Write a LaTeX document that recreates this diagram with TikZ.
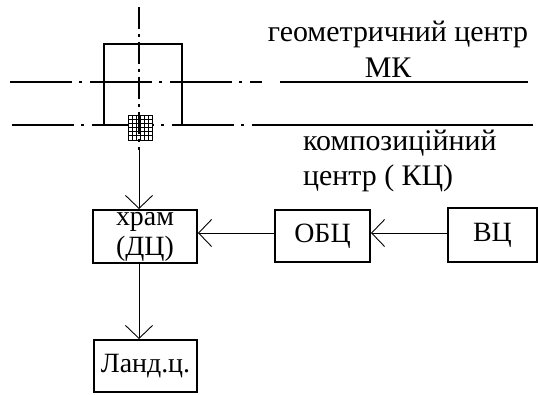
\documentclass[tikz,border=0pt]{standalone}
\usepackage{fontspec}
\setmainfont{Liberation Serif}
\newfontfamily\serifcyr{Liberation Serif}
\usetikzlibrary{arrows.meta}
\tikzset{
  box/.style={draw, line width=1.9pt, inner sep=0pt, align=center, font=\serifcyr\fontsize{28}{30}\selectfont},
  lbl/.style={inner sep=0pt, font=\serifcyr\fontsize{30}{32}\selectfont},
  axis/.style={line width=1.1pt, dash pattern=on 62bp off 7bp on 3bp off 8bp},
  vaxis/.style={line width=1.1pt, dash pattern=on 22bp off 5bp on 3bp off 5bp},
  conn/.style={line width=0.9pt, -{Straight Barb[length=13bp,width=27bp,line width=0.9pt]}},
  ruleline/.style={line width=1.1pt}
}
\begin{document}
\begin{tikzpicture}[x=1bp,y=-1bp]
\useasboundingbox (0,0) rectangle (538,394);
% horizontal axes
\coordinate (a1) at (10,82);
\coordinate (a2) at (262,82);
\coordinate (a3) at (280,82);
\coordinate (a4) at (528,82);
\coordinate (b1) at (12,125);
\coordinate (b2) at (262,125);
\coordinate (b4) at (533,125);
\draw[axis] (a1) -- (a2);
\draw[ruleline] (a3) -- (a4);
\draw[axis] (b1) -- (b2);
\draw[ruleline] (b2) -- (b4);
% square MK
\draw[line width=2.2pt] (104,126) |- (182,44) -- (182,126);
% hatched composition centre
\fill[white] (128,115) rectangle (152,140);
\draw[line width=0.9pt] (128,115) rectangle (152,140);
\foreach \x in {132,136,...,148} \draw[line width=0.8pt] (\x,115) -- (\x,140);
\foreach \y in {119,123,...,136} \draw[line width=0.8pt] (128,\y) -- (152,\y);
% labels
\node[lbl] (geo) at (398,34) {геометричний центр};
\node[lbl] (mk) at (388,68) {МК};
\node[lbl, anchor=west] (komp) at (303,143) {композиційний};
\node[lbl, anchor=west] (kc) at (303,178) {центр ( КЦ)};
% boxes
\node[box, minimum width=104bp, minimum height=53bp] (khram) at (145,236.5) {храм\\(ДЦ)};
\node[box, minimum width=95bp, minimum height=52bp] (obc) at (322.5,236) {ОБЦ};
\node[box, minimum width=89bp, minimum height=54bp] (vc) at (492.5,235) {ВЦ};
\node[box, minimum width=103bp, minimum height=52bp] (land) at (145.5,366) {Ланд.ц.};
% connectors
\coordinate (top) at (139,7);
\draw[vaxis] (top) -- (139,150);
\draw[conn] (139,150) -- (top |- khram.north);
\draw[conn] (obc.west |- 0,233) -- (khram.east |- 0,233);
\draw[conn] (vc.west |- 0,233) -- (obc.east |- 0,233);
\draw[conn] (khram.south -| top) -- (land.north -| top);
\end{tikzpicture}
\end{document}
